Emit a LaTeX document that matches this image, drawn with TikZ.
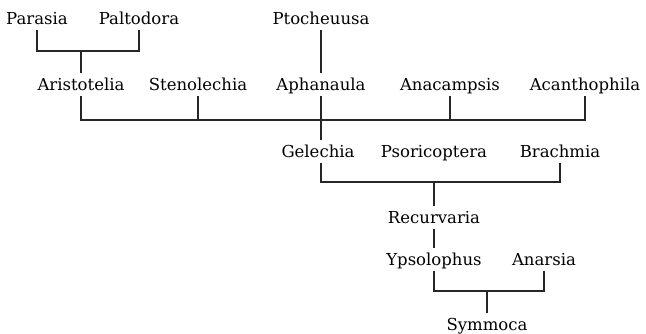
\documentclass[tikz,border=0pt]{standalone}
\usepackage{fontspec}
\setmainfont{DejaVu Serif}
\begin{document}
\begin{tikzpicture}[x=1pt,y=-1pt,
  taxon/.style={anchor=base, inner xsep=0pt, inner ysep=3pt, text height=14pt, text depth=3pt, font=\fontsize{16.5}{19}\selectfont},
  link/.style={line width=1.1pt, black!85}]
\useasboundingbox (0,0) rectangle (646,333);
% row 1
\node[taxon] (par) at (37,24) {Parasia};
\node[taxon] (pal) at (139,24) {Paltodora};
\node[taxon] (pto) at (321,24) {Ptocheuusa};
% row 2
\node[taxon] (ari) at (81,90) {Aristotelia};
\node[taxon] (ste) at (198,90) {Stenolechia};
\node[taxon] (aph) at (321,90) {Aphanaula};
\node[taxon] (ana) at (450,90) {Anacampsis};
\node[taxon] (aca) at (585,90) {Acanthophila};
% row 3
\node[taxon] (gel) at (318,157) {Gelechia};
\node[taxon] (pso) at (434,157) {Psoricoptera};
\node[taxon] (bra) at (560,157) {Brachmia};
% lower
\node[taxon] (rec) at (434,223) {Recurvaria};
\node[taxon] (yps) at (434,265) {Ypsolophus};
\node[taxon] (anr) at (544,265) {Anarsia};
\node[taxon] (sym) at (487,330) {Symmoca};
% bar levels
\coordinate (b1) at (0,51);
\coordinate (b2) at (0,120);
\coordinate (b3) at (0,182);
\coordinate (b4) at (0,291);
% connectors
\draw[link] (par.south) -- (par.south |- b1) -- (pal.south |- b1) -- (pal.south);
\draw[link] (ari.north) -- (ari.north |- b1);
\draw[link] (pto.south) -- (aph.north);
\draw[link] (ari.south) -- (ari.south |- b2) -- (aca.south |- b2) -- (aca.south);
\draw[link] (ste.south) -- (ste.south |- b2);
\draw[link] (ana.south) -- (ana.south |- b2);
\draw[link] (aph.south) -- (aph.south |- gel.north);
\draw[link] (aph.south |- gel.south) -- (aph.south |- b3) -- (bra.south |- b3) -- (bra.south);
\draw[link] (rec.north) -- (rec.north |- b3);
\draw[link] (rec.south) -- (rec.south |- yps.north);
\draw[link] (yps.south) -- (yps.south |- b4) -- (anr.south |- b4) -- (anr.south);
\draw[link] (sym.north) -- (sym.north |- b4);
\end{tikzpicture}
\end{document}
